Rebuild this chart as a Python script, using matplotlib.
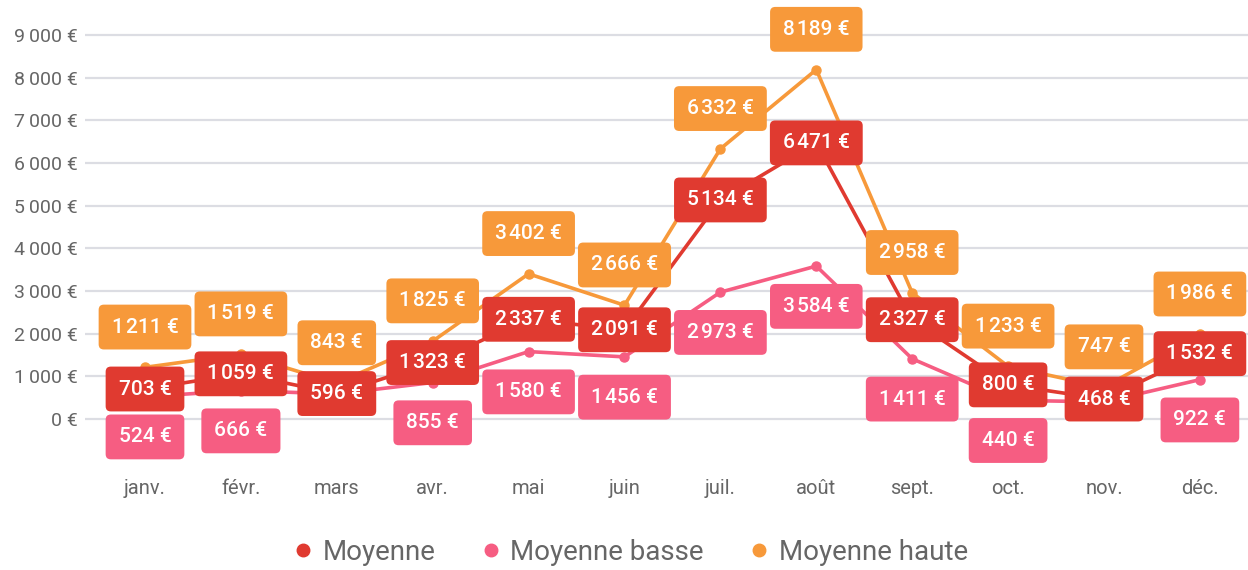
import matplotlib
matplotlib.use("Agg")
import matplotlib.pyplot as plt
from matplotlib.lines import Line2D

plt.rcParams['font.family'] = ['Roboto', 'DejaVu Sans']

months = ["janv.", "févr.", "mars", "avr.", "mai", "juin", "juil.", "août",
          "sept.", "oct.", "nov.", "déc."]
moyenne = [703, 1059, 596, 1323, 2337, 2091, 5134, 6471, 2327, 800, 468, 1532]
basse = [524, 666, 588, 855, 1580, 1456, 2973, 3584, 1411, 440, 400, 922]
haute = [1211, 1519, 843, 1825, 3402, 2666, 6332, 8189, 2958, 1233, 747, 1986]
basse_labels = [524, 666, None, 855, 1580, 1456, 2973, 3584, 1411, 440, None, 922]
yticks = [0, 1000, 2000, 3000, 4000, 5000, 6000, 7000, 8000, 9000]

C_MOY = "#E03A30"
C_BAS = "#F65D82"
C_HAU = "#F7993A"

W, H = 1248, 570
fig = plt.figure(figsize=(W / 100, H / 100), dpi=100)

px_per_unit = 384 / 9000.0
y0 = 419
top_val = 9000 + 35 / px_per_unit
ax_bottom_px = 462
bot_val = -(ax_bottom_px - y0) / px_per_unit

left_px, right_px = 85, 1248
ax = fig.add_axes([left_px / W, 1 - ax_bottom_px / H, (right_px - left_px) / W, ax_bottom_px / H])
ax.set_ylim(bot_val, top_val)
step = 95.9
ax.set_xlim(-(145 - left_px) / step, (right_px - 145) / step)

for s in ax.spines.values():
    s.set_visible(False)
for t in yticks:
    ax.axhline(t, color="#dcdde3", lw=1.6, zorder=0)

fmt = lambda v: f"{v:,}".replace(",", "\u2009") + " €"
fmt_lab = lambda v: f"{v:,}".replace(",", "\u200a") + " €"
ax.set_yticks(yticks)
ax.set_yticklabels([fmt(v) for v in yticks], color="#666666", fontsize=14)
ax.set_xticks(range(len(months)))
ax.set_xticklabels(months, color="#666666", fontsize=14.5)
ax.tick_params(length=0)
ax.tick_params(axis='y', pad=5)
ax.tick_params(axis='x', pad=12)

x = list(range(len(months)))
ax.plot(x, basse, color=C_BAS, lw=2.6, marker="o", ms=6.5, zorder=2)
ax.plot(x, haute, color=C_HAU, lw=2.6, marker="o", ms=6.5, zorder=3)
ax.plot(x, moyenne, color=C_MOY, lw=2.6, marker="o", ms=6.5, zorder=4)

def label(xi, v, color, dy, z):
    if v is None:
        return
    ax.annotate(fmt_lab(v), (xi, v), xytext=(0, dy), textcoords="offset points",
                ha="center", va="center", color="white", fontsize=15,
                fontweight="medium", zorder=z, annotation_clip=False,
                bbox=dict(boxstyle="round,pad=0.62,rounding_size=0.25",
                          fc=color, ec="none"))

for i in x:
    label(i, haute[i], C_HAU, 29, 6)
    label(i, basse_labels[i], C_BAS, -29, 6)
for i in x:
    label(i, moyenne[i], C_MOY, 0, 7)

handles = [Line2D([], [], ls="none", marker="o", ms=9, color=c) for c in (C_MOY, C_BAS, C_HAU)]
leg = fig.legend(handles, ["Moyenne", "Moyenne basse", "Moyenne haute"],
                 loc="center", bbox_to_anchor=(630 / W, 1 - 552 / H), ncol=3,
                 frameon=False, fontsize=20, handletextpad=0.3, columnspacing=1.6,
                 handlelength=0.8)
for t in leg.get_texts():
    t.set_color("#666666")

fig.savefig("out.png", dpi=100)
